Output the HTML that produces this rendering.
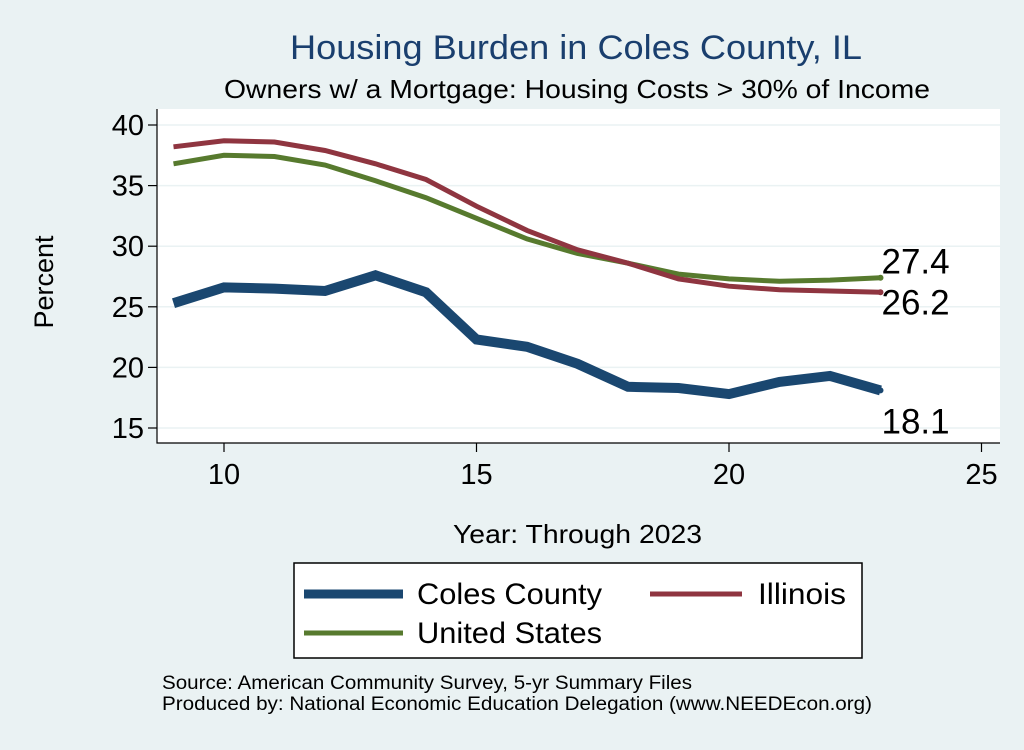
<!DOCTYPE html>
<html><head><meta charset="utf-8"><style>
body{margin:0;background:#eaf2f3;font-family:"Liberation Sans",sans-serif}
</style></head><body>
<svg width="1024" height="745" font-family="Liberation Sans, sans-serif">
<rect width="1024" height="745" fill="#eaf2f3"/>
<text x="290" y="59" textLength="572" lengthAdjust="spacingAndGlyphs" font-size="34" fill="#1a3f6e">Housing Burden in Coles County, IL</text>
<text x="224" y="98" textLength="706" lengthAdjust="spacingAndGlyphs" font-size="26" fill="#000">Owners w/ a Mortgage: Housing Costs &gt; 30% of Income</text>
<rect x="157" y="109" width="843" height="334" fill="#fff"/>
<g id="grid"></g>
<g id="axes"></g>
<g id="series"></g>
<text x="453" y="543" textLength="249" lengthAdjust="spacingAndGlyphs" font-size="26">Year: Through 2023</text>
<text transform="translate(53,282) rotate(-90)" text-anchor="middle" font-size="27">Percent</text>
<g>
<rect x="294" y="563" width="568" height="95" fill="#fff" stroke="#000" stroke-width="1.5"/>
<line x1="304" y1="594" x2="403" y2="594" stroke="#1a4770" stroke-width="9"/>
<text x="417" y="604" textLength="185" lengthAdjust="spacingAndGlyphs" font-size="30">Coles County</text>
<line x1="650" y1="594" x2="742" y2="594" stroke="#8f3540" stroke-width="5"/>
<text x="758" y="604" textLength="88" lengthAdjust="spacingAndGlyphs" font-size="30">Illinois</text>
<line x1="304" y1="633" x2="403" y2="633" stroke="#577a2e" stroke-width="5"/>
<text x="417" y="643" textLength="185" lengthAdjust="spacingAndGlyphs" font-size="30">United States</text>
</g>
<text x="162" y="689" textLength="530" lengthAdjust="spacingAndGlyphs" font-size="19">Source: American Community Survey, 5-yr Summary Files</text>
<text x="162" y="710" textLength="710" lengthAdjust="spacingAndGlyphs" font-size="19">Produced by: National Economic Education Delegation (www.NEEDEcon.org)</text>
</svg>
<script>
const years=[9,10,11,12,13,14,15,16,17,18,19,20,21,22,23];
const coles=[25.3,26.6,26.5,26.3,27.6,26.2,22.3,21.7,20.3,18.4,18.3,17.8,18.8,19.3,18.1];
const illinois=[38.2,38.7,38.6,37.9,36.8,35.5,33.3,31.3,29.7,28.6,27.3,26.7,26.4,26.3,26.2];
const us=[36.8,37.5,37.4,36.7,35.4,34.0,32.3,30.6,29.4,28.6,27.7,27.3,27.1,27.2,27.4];
const xTicks=[10,15,20,25];
const yTicks=[15,20,25,30,35,40];
const NS='http://www.w3.org/2000/svg';
const X=v=>224+(v-10)*50.5;
const Y=v=>125+(40-v)*12.12;
function mk(tag,attrs,parent,txt){const e=document.createElementNS(NS,tag);for(const k in attrs)e.setAttribute(k,attrs[k]);if(txt!==undefined)e.textContent=txt;document.getElementById(parent).appendChild(e);return e;}
yTicks.forEach(t=>{
 let g=mk('line',{x1:157,x2:1000,y1:Y(t),y2:Y(t),stroke:'#eaf2f3','stroke-width':1.5},'grid');
 
 
 let k=mk('line',{x1:148,x2:157,y1:Y(t),y2:Y(t),stroke:'#000','stroke-width':1.2},'axes');
 
 
 let l=mk('text',{x:144,y:Y(t)+10,'text-anchor':'end','font-size':29},'axes',t);
 
 
});
xTicks.forEach(t=>{
 let k=mk('line',{x1:X(t),x2:X(t),y1:443,y2:452,stroke:'#000','stroke-width':1.2},'axes');
 
 
 let l=mk('text',{x:X(t),y:484,'text-anchor':'middle','font-size':29},'axes',t);
 
 
});
let ax=mk('path',{d:'M157,109 V443 H1000',fill:'none',stroke:'#000','stroke-width':1.2},'axes');


function line(vals,color,w,name,dy){
 const d=vals.map((v,i)=>(i?'L':'M')+X(years[i]).toFixed(1)+','+Y(v).toFixed(1)).join(' ');
 let p=mk('path',{d:d,fill:'none',stroke:color,'stroke-width':w,'stroke-linejoin':'miter'},'series');
 
 
 const last=vals[vals.length-1];
 let c=mk('circle',{cx:X(years[years.length-1]),cy:Y(last),r:3,fill:color},'series');
 
 
 let t=mk('text',{x:X(years[years.length-1])+1,y:Y(last)+dy,'font-size':35},'series',last.toFixed(1));
 
 
}
line(us,'#577a2e',5,'us',-4);
line(illinois,'#8f3540',5,'illinois',22);
line(coles,'#1a4770',10,'coles',43);
</script>
</body></html>
